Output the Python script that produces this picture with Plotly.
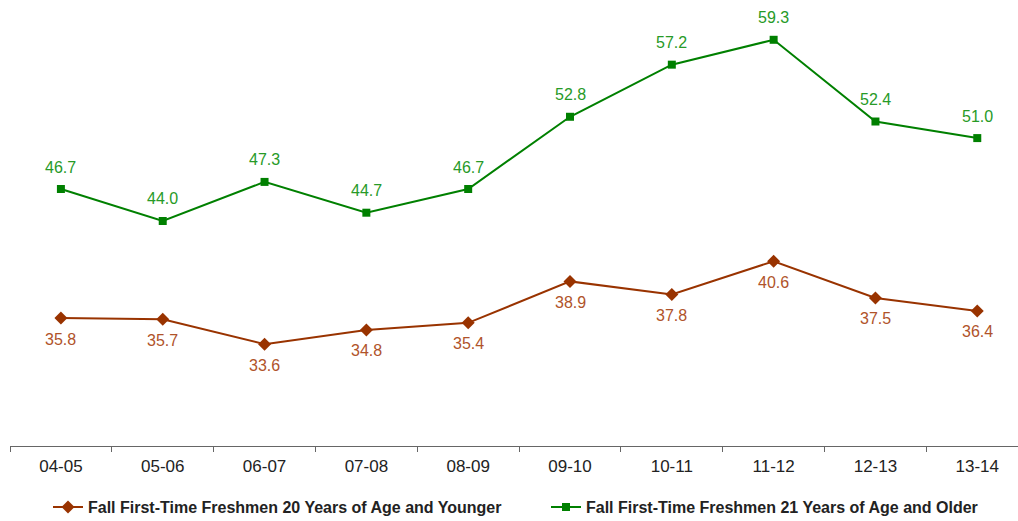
import plotly.graph_objects as go

categories = ["04-05", "05-06", "06-07", "07-08", "08-09", "09-10", "10-11", "11-12", "12-13", "13-14"]
younger = [35.8, 35.7, 33.6, 34.8, 35.4, 38.9, 37.8, 40.6, 37.5, 36.4]
older = [46.7, 44.0, 47.3, 44.7, 46.7, 52.8, 57.2, 59.3, 52.4, 51.0]
name_younger = "Fall First-Time Freshmen 20 Years of Age and Younger"
name_older = "Fall First-Time Freshmen 21 Years of Age and Older"

brown = "#993300"
green = "#008000"
brown_text = "#b0532a"
green_text = "#279a27"
FONT = "Liberation Sans, Arial"

fig = go.Figure()
fig.add_trace(go.Scatter(
    x=categories, y=younger, name=name_younger, mode="lines+markers",
    line=dict(color=brown, width=2),
    marker=dict(symbol="diamond", size=10, color=brown),
))
fig.add_trace(go.Scatter(
    x=categories, y=older, name=name_older, mode="lines+markers",
    line=dict(color=green, width=2),
    marker=dict(symbol="square", size=8, color=green),
))

annotations = []
for c, v in zip(categories, younger):
    annotations.append(dict(x=c, y=v, xref="x", yref="y", text=f"{v:.1f}", showarrow=False,
                            yshift=-21, font=dict(family=FONT, size=16, color=brown_text)))
for c, v in zip(categories, older):
    annotations.append(dict(x=c, y=v, xref="x", yref="y", text=f"{v:.1f}", showarrow=False,
                            yshift=22, font=dict(family=FONT, size=16, color=green_text)))

fig.update_layout(
    width=1018, height=521,
    margin=dict(l=10, r=0, t=0, b=75, autoexpand=False),
    paper_bgcolor="white", plot_bgcolor="white",
    font=dict(family=FONT, size=16, color="#222"),
    showlegend=True,
    annotations=annotations,
    legend=dict(
        orientation="h", x=0.0377, xanchor="left", y=-0.137, yanchor="middle",
        entrywidth=453, entrywidthmode="pixels",
        font=dict(family=FONT, size=16, color="#222", weight="bold"),
        itemwidth=30, bgcolor="rgba(0,0,0,0)",
    ),
    xaxis=dict(
        type="category", range=[-0.5, 9.4],
        showline=True, linecolor="#666", linewidth=1,
        ticks="outside", ticklen=5, tickcolor="#666", tickson="boundaries",
        ticklabelstandoff=5,
        showgrid=False, zeroline=False,
        tickfont=dict(family=FONT, size=17, color="#222"),
    ),
    yaxis=dict(
        range=[25, 62.66], visible=False, showgrid=False, zeroline=False,
    ),
)

fig.write_html("out.html")
